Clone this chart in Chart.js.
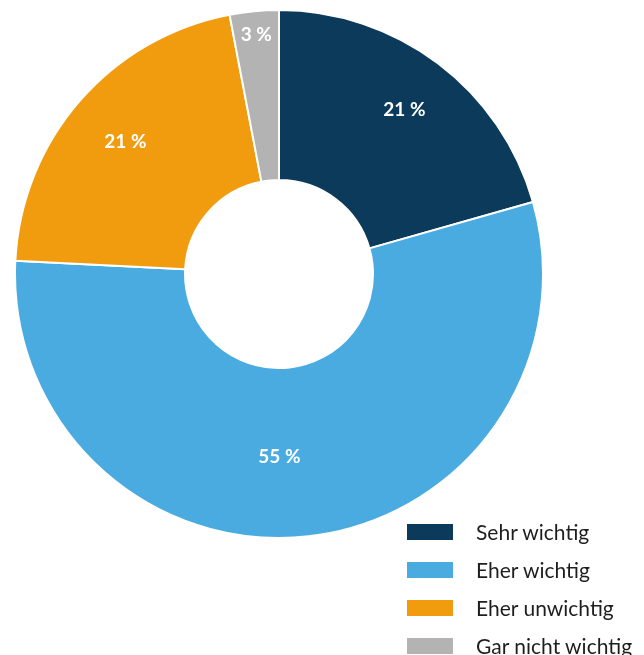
<!DOCTYPE html>
<html>
<head>
<meta charset="utf-8">
<script src="https://cdn.jsdelivr.net/npm/chart.js@4/dist/chart.umd.min.js"></script>
<style>
    html, body { margin: 0; padding: 0; background: #ffffff; }
    body { width: 644px; height: 655px; position: relative; overflow: hidden; font-family: Lato, sans-serif; }
    #chart_wrap { position: absolute; left: 14px; top: 9px; width: 530px; height: 530px; }
    #legend { position: absolute; left: 407px; top: 524px; margin: 0; padding: 0; list-style: none; }
    #legend li { height: 38px; display: flex; align-items: flex-start; }
    #legend .box { width: 46px; height: 16px; margin-right: 23px; }
    #legend .txt { font-size: 21px; line-height: 16px; color: #1e1e1e; white-space: nowrap; }
</style>
</head>
<body>
<div id="chart_wrap"><canvas id="importance_chart"></canvas></div>
<ul id="legend"></ul>
<script>
// Chart data (shares in percent, labels show them rounded)
const categories = ['Sehr wichtig', 'Eher wichtig', 'Eher unwichtig', 'Gar nicht wichtig'];
const shares     = [20.6, 55.2, 21.2, 3.0];
const colors     = ['#0c3a5b', '#49abe0', '#f19c0e', '#b3b3b3'];

// Slice labels ("21 %") drawn inside every arc
const sliceLabels = {
    id: 'sliceLabels',
    afterDatasetsDraw( chart, args, opts )
    {
        const ctx  = chart.ctx;
        const meta = chart.getDatasetMeta(0);
        ctx.save();
        ctx.font = 'bold 19px Lato';
        ctx.fillStyle = '#ffffff';
        ctx.textAlign = 'center';
        ctx.textBaseline = 'middle';
        meta.data.forEach( ( arc, i ) => {
            const p = arc.getProps(['x', 'y', 'startAngle', 'endAngle', 'innerRadius', 'outerRadius'], true);
            const a = p.startAngle + ( p.endAngle - p.startAngle ) * opts.angle[i];
            const r = p.innerRadius + ( p.outerRadius - p.innerRadius ) * opts.radius[i];
            ctx.fillText( Math.round( shares[i] ) + ' %', p.x + Math.cos(a) * r, p.y + Math.sin(a) * r + opts.shiftY );
        });
        ctx.restore();
    }
};

let importanceCtx = document.getElementById('importance_chart');

new Chart(importanceCtx, {
    type: 'doughnut',
    data: {
        labels: categories,
        datasets: [{
            data: shares,
            backgroundColor: colors,
            borderColor: '#ffffff',
            borderWidth: 2,
            hoverOffset: 0
        }]
    },
    options: {
        responsive: true,
        maintainAspectRatio: false,
        animation: false,
        cutout: '35.6%',
        layout: { padding: 0 },
        plugins: {
            legend: { display: false },
            tooltip: { enabled: false },
            sliceLabels: {
                radius: [0.67, 0.51, 0.645, 0.87],
                angle:  [0.5, 0.532, 0.5, 0.5],
                shiftY: 2
            }
        }
    },
    plugins: [sliceLabels]
});

// Legend
const legendEl = document.getElementById('legend');
categories.forEach( ( name, i ) => {
    const li = document.createElement('li');
    li.innerHTML = '<span class="box" style="background:' + colors[i] + '"></span><span class="txt">' + name + '</span>';
    legendEl.appendChild(li);
});
</script>
</body>
</html>
